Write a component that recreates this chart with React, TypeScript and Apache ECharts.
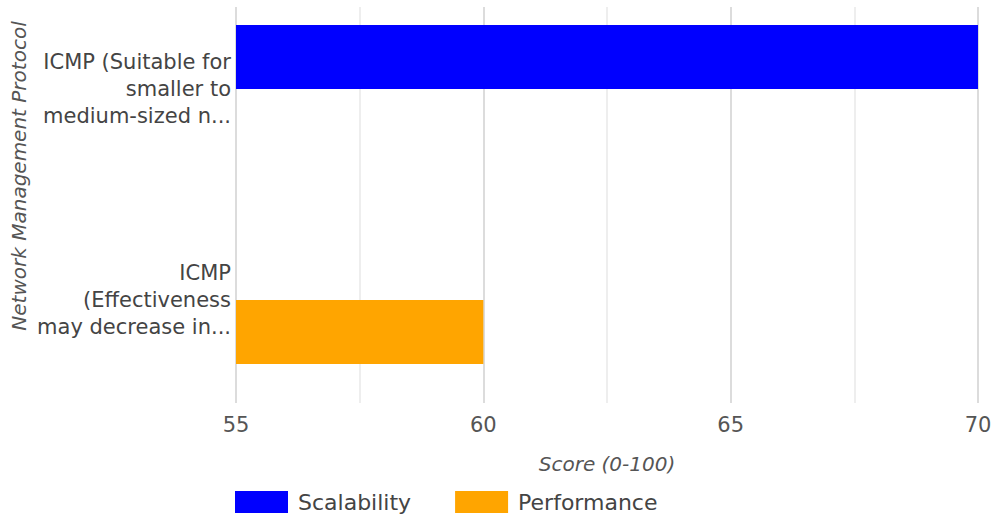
import React, { useEffect, useRef } from "react";
import * as echarts from "echarts";

const categories = [
  "ICMP (Suitable for\nsmaller to\nmedium-sized n...",
  "ICMP\n(Effectiveness\nmay decrease in...",
];
const scalability: (number | null)[] = [70, null];
const performance: (number | null)[] = [null, 60];
const seriesNames = ["Scalability", "Performance"];
const xMin = 55;
const xMax = 70;
const xStep = 5;

const FONT = "'DejaVu Sans', 'Open Sans', sans-serif";

export default function App() {
  const ref = useRef<HTMLDivElement>(null);

  useEffect(() => {
    if (!ref.current) return;
    document.body.style.margin = "0";
    const chart = echarts.init(ref.current, undefined, { renderer: "svg" });
    chart.setOption({
      animation: false,
      backgroundColor: "#ffffff",
      textStyle: { fontFamily: FONT },
      grid: [
        // bars and category labels
        {
          left: 236,
          right: 16,
          top: -16.5,
          height: 422,
          containLabel: false,
          outerBoundsMode: "none",
        },
        // gridlines and value labels
        {
          left: 236,
          right: 16,
          top: 7,
          height: 396,
          containLabel: false,
          outerBoundsMode: "none",
        },
      ],
      xAxis: [
        { gridIndex: 0, type: "value", min: xMin, max: xMax, show: false },
        {
          gridIndex: 1,
          type: "value",
          min: xMin,
          max: xMax,
          interval: xStep,
          axisLine: { show: false },
          axisTick: { show: false },
          axisLabel: { color: "#555", fontSize: 21, margin: 11, fontFamily: FONT },
          splitLine: { show: true, lineStyle: { color: "#d0d0d0", width: 1.5 } },
          minorTick: { show: false, splitNumber: 2 },
          minorSplitLine: { show: true, lineStyle: { color: "#e8e8e8", width: 1.5 } },
          name: "Score (0-100)",
          nameLocation: "middle",
          nameGap: 51,
          nameTextStyle: { color: "#555", fontSize: 20, fontStyle: "italic", fontFamily: FONT },
        },
      ],
      yAxis: [
        {
          gridIndex: 0,
          type: "category",
          inverse: true,
          data: categories,
          axisLine: { show: false },
          axisTick: { show: false },
          axisLabel: {
            color: "#444",
            fontSize: 21,
            lineHeight: 27,
            margin: 5,
            align: "right",
            fontFamily: FONT,
          },
        },
        { gridIndex: 1, type: "value", show: false },
      ],
      legend: {
        left: 235,
        top: 491,
        padding: 0,
        itemWidth: 53,
        itemHeight: 22,
        itemGap: 44,
        icon: "rect",
        textStyle: { color: "#444", fontSize: 22, fontFamily: FONT, padding: [0, 0, 0, 5] },
        data: seriesNames,
      },
      graphic: [
        {
          type: "text",
          x: 19,
          y: 176,
          rotation: Math.PI / 2,
          style: {
            text: "Network Management Protocol",
            fill: "#555",
            font: `italic 20px ${FONT}`,
            align: "center",
            verticalAlign: "middle",
          },
        },
      ],
      series: [
        {
          name: seriesNames[0],
          type: "bar",
          xAxisIndex: 0,
          yAxisIndex: 0,
          data: scalability,
          barWidth: 64,
          barGap: "0%",
          itemStyle: { color: "#0000ff" },
        },
        {
          name: seriesNames[1],
          type: "bar",
          xAxisIndex: 0,
          yAxisIndex: 0,
          data: performance,
          barWidth: 64,
          barGap: "0%",
          itemStyle: { color: "#ffa500" },
        },
      ],
    });
    return () => chart.dispose();
  }, []);

  return <div ref={ref} style={{ width: 994, height: 515 }} />;
}
